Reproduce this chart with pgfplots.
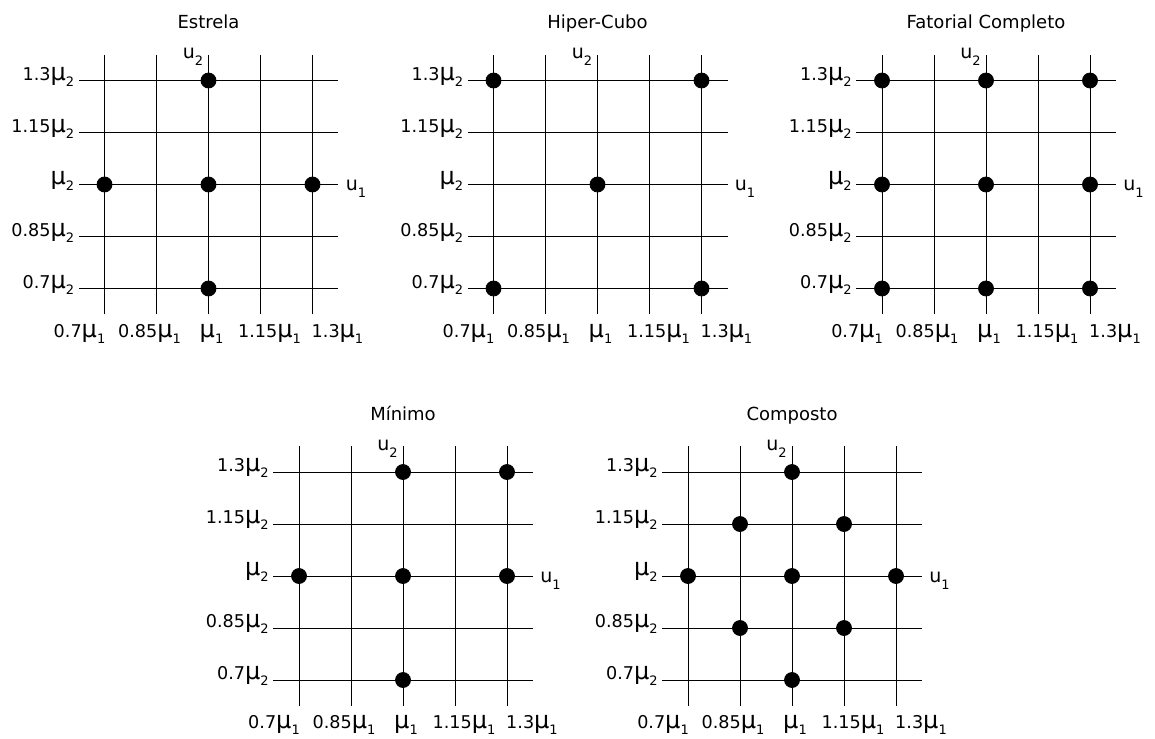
\documentclass[border=0pt]{standalone}
\usepackage{fontspec}
\setmainfont{DejaVu Sans}
\usepackage{pgfplots}
\pgfplotsset{compat=1.18}
\newcommand{\mup}[1]{{\fontsize{12pt}{12pt}\selectfont μ}\raisebox{-3pt}{\fontsize{6.5pt}{6.5pt}\selectfont #1}}
\newcommand{\uu}[1]{u\raisebox{-3.5pt}{\fontsize{6.5pt}{6.5pt}\selectfont #1}}
\newcommand{\xl}[2]{\makebox[0pt]{\hspace*{#1}#2}}
\pgfplotsset{
  panel/.style={
    width=130pt, height=130pt, scale only axis,
    xmin=0.625, xmax=1.375, ymin=0.625, ymax=1.375,
    axis line style={draw=none},
    xtick={0.7,0.85,1,1.15,1.3}, ytick={0.7,0.85,1,1.15,1.3},
    xticklabels={\xl{-25pt}{0.7\mup{1}},\xl{-7pt}{0.85\mup{1}},\xl{3pt}{\mup{1}},\xl{9pt}{1.15\mup{1}},\xl{25pt}{1.3\mup{1}}},
    yticklabels={0.7\mup{2},0.85\mup{2},\mup{2},1.15\mup{2},1.3\mup{2}},
    major tick length=0pt,
    grid=major, grid style={black, line width=0.5pt},
    tick label style={font=\fontsize{8.8pt}{10pt}\selectfont},
    xticklabel style={anchor=north, inner sep=0pt, yshift=-4.5pt},
    yticklabel style={anchor=east, inner sep=0pt, xshift=-2pt, yshift=2pt},
    clip=false,
  },
  dots/.style={only marks, mark=*, mark size=3.75pt, black},
}
\newcommand{\decor}[1]{%
  \node[font=\fontsize{9pt}{10pt}\selectfont, anchor=base] at (rel axis cs:0.5,1) [yshift=13pt] {#1};
  \node[font=\fontsize{9.5pt}{10pt}\selectfont, anchor=base east, inner sep=0pt] at (axis cs:1,1.375) [xshift=-2.5pt, yshift=-2pt] {\uu{2}};
  \node[font=\fontsize{9.5pt}{10pt}\selectfont, anchor=base west, inner sep=0pt] at (axis cs:1.375,1) [xshift=3.5pt, yshift=-3pt] {\uu{1}};
}
\begin{document}
\begin{tikzpicture}
\path[use as bounding box] (0,0) rectangle (577.5pt,-369pt);
% Estrela
\begin{axis}[panel, at={(104.25pt,-92.25pt)}, anchor=center]
\addplot[dots] coordinates {(1,1.3) (0.7,1) (1,1) (1.3,1) (1,0.7)};
\decor{Estrela}
\end{axis}
% Hiper-Cubo
\begin{axis}[panel, at={(298.75pt,-92.25pt)}, anchor=center]
\addplot[dots] coordinates {(0.7,1.3) (1.3,1.3) (1,1) (0.7,0.7) (1.3,0.7)};
\decor{Hiper-Cubo}
\end{axis}
% Fatorial Completo
\begin{axis}[panel, at={(493pt,-92.25pt)}, anchor=center]
\addplot[dots] coordinates {(0.7,1.3) (1,1.3) (1.3,1.3) (0.7,1) (1,1) (1.3,1) (0.7,0.7) (1,0.7) (1.3,0.7)};
\decor{Fatorial Completo}
\end{axis}
% Minimo
\begin{axis}[panel, at={(201.5pt,-288pt)}, anchor=center]
\addplot[dots] coordinates {(1,1.3) (1.3,1.3) (0.7,1) (1,1) (1.3,1) (1,0.7)};
\decor{Mínimo}
\end{axis}
% Composto
\begin{axis}[panel, at={(396pt,-288pt)}, anchor=center]
\addplot[dots] coordinates {(1,1.3) (0.85,1.15) (1.15,1.15) (0.7,1) (1,1) (1.3,1) (0.85,0.85) (1.15,0.85) (1,0.7)};
\decor{Composto}
\end{axis}
\end{tikzpicture}
\end{document}
